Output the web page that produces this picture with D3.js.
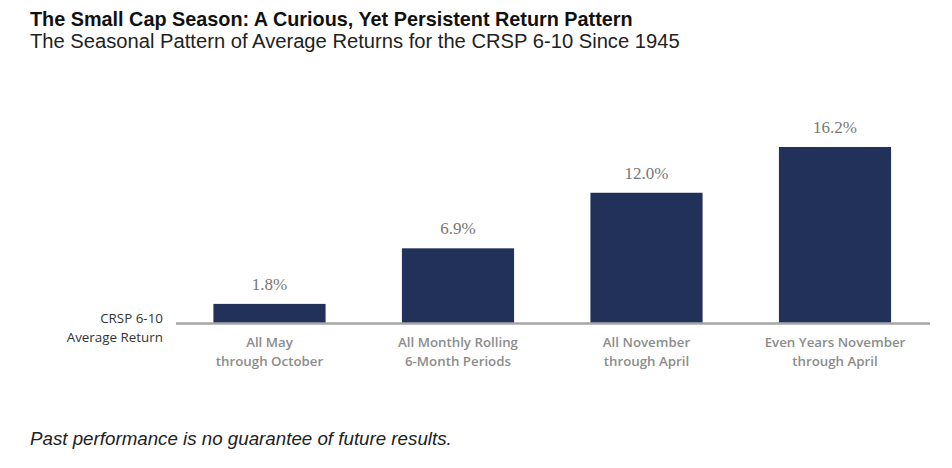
<!DOCTYPE html>
<html><head><meta charset="utf-8">
<script src="https://cdn.jsdelivr.net/npm/d3@7"></script>
<style>body{margin:0;background:#fff}svg{display:block}</style>
</head><body>
<svg id="chart" width="952" height="468"></svg>
<script>
const categories = [
  ["All May", "through October"],
  ["All Monthly Rolling", "6-Month Periods"],
  ["All November", "through April"],
  ["Even Years November", "through April"]
];
const values = [1.8, 6.9, 12.0, 16.2];
const valueLabels = ["1.8%", "6.9%", "12.0%", "16.2%"];
const axisLabel = ["CRSP 6-10", "Average Return"];

const svg = d3.select("#chart");
const baseY = 323.5, yTop = 147;
const x = d3.scaleBand().domain(d3.range(values.length)).range([175.25, 929.25]).paddingInner(0.405).paddingOuter(0.2025);
const y = d3.scaleLinear().domain([0, 16.2]).range([baseY, yTop]);

const sans = "'Liberation Sans', Arial, sans-serif";
function fitText(sel, w){ const n=sel.node(); const cw=n.getComputedTextLength(); const fs=parseFloat(sel.attr("font-size")); sel.attr("font-size", fs*w/cw); }

const t1 = svg.append("text").attr("x",30).attr("y",25.5).attr("font-family",sans).attr("font-weight","bold").attr("font-size",17).attr("fill","#111").text("The Small Cap Season: A Curious, Yet Persistent Return Pattern");
fitText(t1, 603);
const t2 = svg.append("text").attr("x",30).attr("y",48).attr("font-family",sans).attr("font-size",18).attr("fill","#222").text("The Seasonal Pattern of Average Returns for the CRSP 6-10 Since 1945");
fitText(t2, 650);

svg.append("g").selectAll("rect").data(values).join("rect")
  .attr("x",(d,i)=>x(i)).attr("width",x.bandwidth())
  .attr("y",d=>y(d)).attr("height",d=>baseY-y(d)).attr("fill","#223159");

svg.append("line").attr("x1",176).attr("x2",930).attr("y1",baseY).attr("y2",baseY).attr("stroke","#a6a6a6").attr("stroke-width",2.5);

svg.append("g").selectAll("text").data(values).join("text")
  .attr("x",(d,i)=>x(i)+x.bandwidth()/2).attr("y",d=>y(d)-14)
  .attr("text-anchor","middle").attr("font-family","'Liberation Serif', 'DejaVu Serif', serif")
  .attr("font-size",17).attr("fill","#777").text((d,i)=>valueLabels[i]);

const cl = svg.append("g").selectAll("text").data(categories).join("text")
  .attr("x",(d,i)=>x(i)+x.bandwidth()/2).attr("y",347)
  .attr("text-anchor","middle").attr("font-family","'Open Sans', sans-serif").attr("font-weight","600")
  .attr("font-size",13.3).attr("fill","#8c8c8c");
cl.each(function(d){ const s=d3.select(this); d.forEach((line,k)=>s.append("tspan").attr("x",s.attr("x")).attr("dy",k?18.5:0).text(line)); });

svg.append("g").selectAll("text").data(axisLabel).join("text")
  .attr("x",163).attr("y",(d,i)=>323+i*18.5).attr("text-anchor","end")
  .attr("font-family","'Open Sans', sans-serif").attr("font-size",13.4).attr("fill","#333").text(d=>d);

const fn = svg.append("text").attr("x",30).attr("y",445).attr("font-family",sans).attr("font-style","italic").attr("font-size",16).attr("fill","#222").text("Past performance is no guarantee of future results.");
fitText(fn, 422);
</script>
</body></html>
